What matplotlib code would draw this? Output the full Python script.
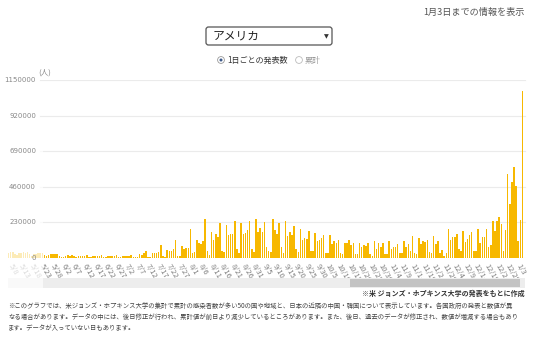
import datetime as dt
import matplotlib
matplotlib.use("Agg")
import matplotlib.pyplot as plt
from matplotlib import transforms
from matplotlib.patches import Rectangle, FancyBboxPatch, Circle

plt.rcParams['font.family'] = ['Noto Sans CJK JP', 'DejaVu Sans']

# ---------------- data (thousands of people per day) ----------------
start_date = dt.date(2021, 5, 5)
week_0505 = [35, 37, 40, 28, 18]
week_0510 = [30, 33, 36, 34, 40, 24, 15]
week_0517 = [28, 27, 30, 30, 34, 20, 12]
week_0524 = [22, 24, 23, 26, 25, 12, 8]
week_0531 = [6, 12, 18, 16, 20, 10, 6]
week_0607 = [12, 14, 14, 13, 18, 8, 5]
week_0614 = [10, 12, 13, 12, 20, 6, 4]
week_0621 = [10, 11, 14, 12, 17, 6, 4]
week_0628 = [12, 13, 14, 14, 22, 6, 4]
week_0705 = [4, 25, 22, 30, 43, 6, 4]
week_0712 = [35, 32, 35, 38, 82, 10, 6]
week_0719 = [50, 42, 48, 55, 115, 15, 10]
week_0726 = [77, 60, 62, 65, 186, 30, 40]
week_0802 = [114, 100, 92, 107, 252, 48, 22]
week_0809 = [169, 116, 153, 136, 228, 44, 40]
week_0816 = [210, 147, 153, 153, 241, 61, 31]
week_0823 = [228, 153, 164, 180, 241, 57, 40]
week_0830 = [250, 166, 197, 169, 230, 68, 44]
week_0906 = [40, 252, 180, 155, 223, 70, 35]
week_0913 = [241, 142, 166, 149, 206, 55, 40]
week_0920 = [186, 118, 129, 123, 173, 44, 44]
week_0927 = [162, 107, 114, 130, 149, 35, 31]
week_1004 = [147, 92, 107, 96, 118, 35, 24]
week_1011 = [96, 100, 116, 81, 100, 26, 24]
week_1018 = [94, 74, 85, 79, 94, 24, 11]
week_1025 = [110, 61, 94, 68, 94, 24, 24]
week_1101 = [110, 59, 70, 72, 88, 31, 31]
week_1108 = [107, 74, 88, 48, 142, 35, 24]
week_1115 = [131, 88, 110, 105, 118, 40, 31]
week_1122 = [142, 92, 107, 31, 50, 15, 35]
week_1129 = [188, 114, 134, 134, 153, 57, 44]
week_1206 = [173, 105, 123, 151, 169, 48, 42]
week_1213 = [186, 100, 136, 136, 186, 70, 81]
week_1220 = [239, 173, 239, 265, 221, 48, 182]
week_1227 = [541, 350, 490, 586, 468, 107, 243]
week_0103 = [1080]

weeks = [week_0505, week_0510, week_0517, week_0524, week_0531, week_0607,
         week_0614, week_0621, week_0628, week_0705, week_0712, week_0719,
         week_0726, week_0802, week_0809, week_0816, week_0823, week_0830,
         week_0906, week_0913, week_0920, week_0927, week_1004, week_1011,
         week_1018, week_1025, week_1101, week_1108, week_1115, week_1122,
         week_1129, week_1206, week_1213, week_1220, week_1227, week_0103]

y_ticks = [0, 230000, 460000, 690000, 920000, 1150000]
axis_origin = dt.date(2021, 5, 3)
label_start = dt.date(2021, 5, 8)
label_end = dt.date(2022, 1, 3)
label_step_days = 5

title_text = "1月3日までの情報を表示"
country = "アメリカ"
radio_labels = ["1日ごとの発表数", "累計"]
source_text = "※米 ジョンズ・ホプキンス大学の発表をもとに作成"
note_lines = [
    "※このグラフでは、米ジョンズ・ホプキンス大学の集計で累計の感染者数が多い50の国や地域と、日本の近隣の中国・韓国について表示しています。各国政府の発表と数値が異",
    "なる場合があります。データの中には、後日修正が行われ、累計値が前日より減少しているところがあります。また、後日、過去のデータが修正され、数値が増減する場合もあり",
    "ます。データが入っていない日もあります。",
]

values = [v * 1000 for w in weeks for v in w]
dates = [start_date + dt.timedelta(days=i) for i in range(len(values))]

# ---------------- figure ----------------
W, H = 540, 341
fig = plt.figure(figsize=(W / 100, H / 100), dpi=100)

px_per_day = 2.115
x0_px = 4.3            # pixel position of axis_origin
base_px, top_px = 258, 80

ax = fig.add_axes([0, (H - base_px) / H, 1, (base_px - top_px) / H])
ax.set_xlim(-x0_px / px_per_day, (W - x0_px) / px_per_day)
ax.set_ylim(0, y_ticks[-1])
for s in ax.spines.values():
    s.set_visible(False)
ax.set_yticks([])
ax.patch.set_alpha(0)

xs = [(d - axis_origin).days for d in dates]
ax.bar(xs, values, width=0.72, color="#f7b800", linewidth=0, zorder=2)

for v in y_ticks:
    ax.axhline(v, xmin=40 / W, xmax=525 / W, color="#ebebeb", lw=0.8, zorder=1)

# date labels
lab_dates = []
d = label_start
while d <= label_end:
    lab_dates.append(d)
    d += dt.timedelta(days=label_step_days)
ax.set_xticks([(d - axis_origin).days - 0.6 for d in lab_dates])
ax.set_xticklabels([f"{d.month}/{d.day}" for d in lab_dates], rotation=-60,
                   ha="left", va="top", rotation_mode="anchor",
                   fontsize=5.5, color="#808080")
ax.tick_params(axis="x", length=0, pad=3)

# ---------------- overlay in pixel coordinates ----------------
ov = fig.add_axes([0, 0, 1, 1], zorder=5)
ov.set_xlim(0, W)
ov.set_ylim(H, 0)
ov.axis("off")
ov.patch.set_alpha(0)

# scrollbar
ov.add_patch(Rectangle((8, 278), 517, 10, facecolor="#ededed", edgecolor="none", zorder=0.5))
ov.add_patch(Rectangle((350, 279), 170, 8, facecolor="#c3c3c3", edgecolor="none", zorder=0.6))

# fade over the left part
ov.add_patch(Rectangle((0, 150), 43, 145, facecolor="white", edgecolor="none", alpha=0.72, zorder=1))

# y labels
bt = transforms.blended_transform_factory(ov.transData, ax.transData)
for v in y_ticks:
    ov.text(36, v, f"{v}", transform=bt, ha="right", va="center",
            fontsize=5, color="#888", zorder=3, family="DejaVu Sans")
ov.text(38, 73, "(人)", ha="left", va="center", fontsize=5.5, color="#888")

# title and controls
ov.text(525, 12, title_text, ha="right", va="center", fontsize=6.6, color="#555")
ov.add_patch(FancyBboxPatch((206, 27), 126, 18, boxstyle="round,pad=0,rounding_size=2.5",
                            facecolor="white", edgecolor="#555", lw=0.9))
ov.text(213, 36, country, ha="left", va="center", fontsize=8.5, color="#222")
ov.text(326, 36.5, "▼", ha="center", va="center", fontsize=4.5, color="#333",
        family=["DejaVu Sans"])

ov.add_patch(Circle((221, 60), 3.4, facecolor="white", edgecolor="#999", lw=0.6))
ov.add_patch(Circle((221, 60), 1.5, facecolor="#3d5a8a", edgecolor="none"))
ov.text(227, 60, radio_labels[0], ha="left", va="center", fontsize=5.8, color="#333")
ov.add_patch(Circle((299, 60), 3.4, facecolor="white", edgecolor="#bbb", lw=0.6))
ov.text(305, 60, radio_labels[1], ha="left", va="center", fontsize=5.8, color="#999")

# notes
ov.text(525, 293, source_text, ha="right", va="center", fontsize=5, color="#333",
        fontweight="bold")
for i, line in enumerate(note_lines):
    ov.text(8, 306 + 11 * i, line, ha="left", va="center", fontsize=4.6, color="#444")

fig.savefig("out.png", dpi=100)
